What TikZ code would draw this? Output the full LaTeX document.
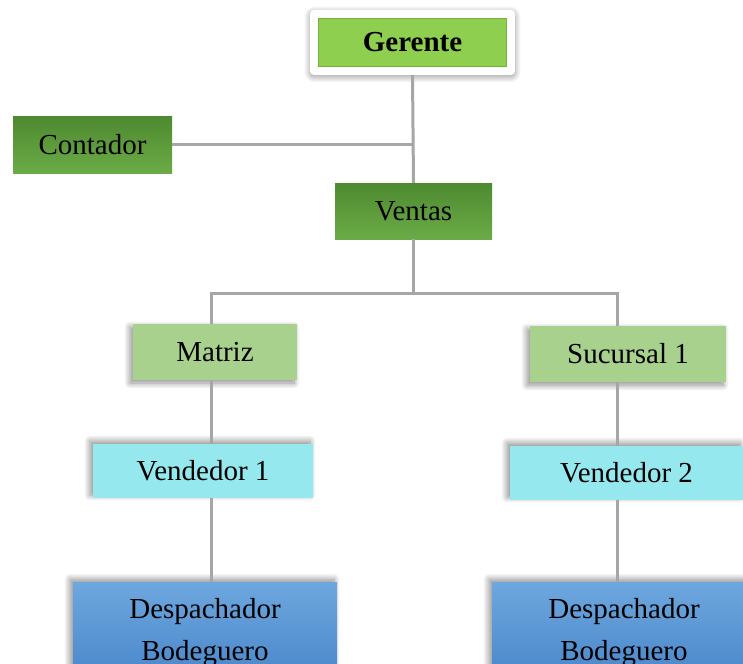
\documentclass[tikz,border=0pt]{standalone}
\usepackage{fontspec}
\setmainfont{Liberation Serif}
\usetikzlibrary{shadows.blur}

\definecolor{verdeJefe}{HTML}{8FCF4F}
\definecolor{bordeJefe}{HTML}{74B23C}
\definecolor{verdeOsc}{HTML}{4E8A30}
\definecolor{verdeMed}{HTML}{6BAB47}
\definecolor{verdeClaro}{HTML}{A8D18D}
\definecolor{celeste}{HTML}{95E9EE}
\definecolor{azulSup}{HTML}{6EA7DE}
\definecolor{azulInf}{HTML}{4886CA}
\definecolor{gris}{HTML}{A6A6A6}

\begin{document}
\begin{tikzpicture}[x=1pt, y=-1pt,
	cargo/.style={inner sep=0pt, minimum height=56pt, align=center,
		font=\fontsize{29}{42}\selectfont, text=black},
	sombra/.style={blur shadow={shadow xshift=-3pt, shadow yshift=#1, shadow blur radius=6pt,
		shadow blur steps=12, shadow opacity=45}},
	enlace/.style={draw=gris, line width=3pt}]
	\useasboundingbox (0,0) rectangle (743,663);
	\clip (0,0) rectangle (743,663);

	% cargos
	\node (marco) [minimum width=205pt, minimum height=65pt, fill=white, rounded corners=4pt,
		blur shadow={shadow xshift=0pt, shadow yshift=-2pt, shadow blur radius=6pt,
		shadow blur steps=12, shadow opacity=40}]
		at (412.5,42.5) {};
	\node (gerente) [cargo, minimum width=188pt, minimum height=48pt, fill=verdeJefe,
		draw=bordeJefe, line width=1.5pt] at (marco) {\textbf{Gerente}};
	\node (contador) [cargo, minimum width=159pt, top color=verdeOsc, middle color=verdeMed,
		bottom color=verdeMed] at (92.5,145) {Contador};
	\node (ventas) [cargo, minimum width=157pt, top color=verdeOsc, middle color=verdeMed,
		bottom color=verdeMed] at (413.5,211) {Ventas};
	\node (matriz) [cargo, minimum width=164pt, fill=verdeClaro, sombra=-3pt] at (215,352) {Matriz};
	\node (sucursal) [cargo, minimum width=196pt, fill=verdeClaro, sombra=-3pt] at (628,354) {Sucursal 1};
	\node (vend1) [cargo, minimum width=220pt, minimum height=54pt, fill=celeste, sombra=3pt]
		at (203,471) {Vendedor 1};
	\node (vend2) [cargo, minimum width=233pt, minimum height=54pt, fill=celeste, sombra=3pt]
		at (626.5,473) {Vendedor 2};
	\node (desp1) [cargo, anchor=north, minimum width=264pt, minimum height=100pt,
		top color=azulSup, bottom color=azulInf, sombra=3pt] at (205,582)
		{Despachador\\Bodeguero};
	\node (desp2) [cargo, anchor=north, minimum width=264pt, minimum height=100pt,
		top color=azulSup, bottom color=azulInf, sombra=3pt] at (624,582)
		{Despachador\\Bodeguero};

	% lineas
	\coordinate (izq) at (211,293);
	\coordinate (der) at (617,293);
	\draw [enlace] (marco.south) -- (ventas.north);
	\draw [enlace] (contador.east) -- (contador.east -| marco.south);
	\draw [enlace] (ventas.south) -- (ventas.south |- izq);
	\draw [enlace] (izq |- matriz.north) -- (izq) -- (der) -- (der |- sucursal.north);
	\draw [enlace] (izq |- matriz.south) -- (izq |- vend1.north);
	\draw [enlace] (izq |- vend1.south) -- (izq |- desp1.north);
	\draw [enlace] (der |- sucursal.south) -- (der |- vend2.north);
	\draw [enlace] (der |- vend2.south) -- (der |- desp2.north);
\end{tikzpicture}
\end{document}
